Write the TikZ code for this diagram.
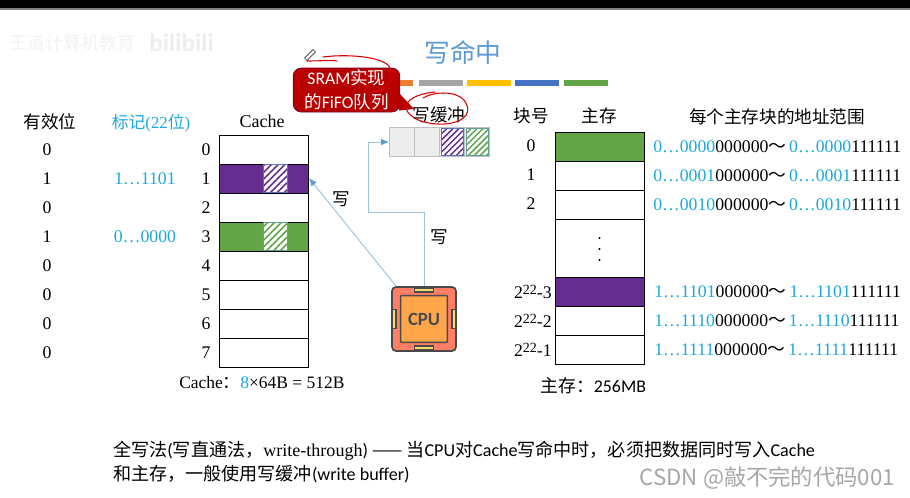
\documentclass[tikz,border=0pt]{standalone}
\usepackage{fontspec}
\setmainfont{Liberation Serif}
\setsansfont{Carlito}
\newfontfamily\cjk{Noto Sans CJK SC}
\usetikzlibrary{arrows.meta,patterns.meta,shapes.misc}
\definecolor{tblue}{HTML}{5B9BD5}
\definecolor{cyanb}{HTML}{1BA9DC}
\definecolor{purp}{HTML}{652D8F}
\definecolor{grn}{HTML}{62A446}
\definecolor{linkb}{HTML}{9CC2DE}
\definecolor{redb}{HTML}{B70000}
\definecolor{cellg}{HTML}{EDEDED}
\definecolor{bord}{HTML}{BFBFBF}
\definecolor{baror}{HTML}{ED7D31}
\definecolor{bargr}{HTML}{A5A5A5}
\definecolor{barye}{HTML}{FFC000}
\definecolor{barbl}{HTML}{4472C4}
\definecolor{cpuo}{HTML}{FF7F66}
\definecolor{cpui}{HTML}{FFA54A}
\definecolor{cpup}{HTML}{F4DC6E}
\definecolor{cpul}{HTML}{4A4A4A}
\tikzset{
  tx/.style={inner sep=0pt,font=\fontsize{13.3}{15}\selectfont},
  cn/.style={inner sep=0pt,font=\cjk\fontsize{13.2}{15}\selectfont},
  blue tx/.style={tx,text=cyanb},
  cell/.style={draw=black,line width=0.8pt,fill=white,minimum width=66.75pt,inner sep=0pt,minimum height=21.75pt},
  hatchp/.style={draw=#1!40!tblue,line width=0.7pt,minimum width=18.5pt,minimum height=21.5pt,inner sep=0pt,
     preaction={fill=white},pattern={Lines[angle=45,distance=3.6pt,line width=1.2pt]},pattern color=#1},
  bufc/.style={draw=bord,line width=0.9pt,fill=cellg,minimum width=18.75pt,minimum height=21.75pt,inner sep=0pt},
  bufh/.style={draw=#1!40!tblue,line width=0.7pt,minimum width=16.5pt,minimum height=20pt,inner sep=0pt,
     preaction={fill=white},pattern={Lines[angle=45,distance=3.2pt,line width=1.1pt]},pattern color=#1},
  bar/.style={minimum height=4.5pt,inner sep=0pt,fill=#1,minimum width=32.5pt},
  link/.style={draw=linkb,line width=0.7pt,-{Latex[length=6pt,width=5pt,color=tblue]}},
  scrib/.style={draw=red!85!black,line width=0.8pt,line cap=round},
  addr/.style={inner sep=0pt,anchor=west,font=\fontsize{13.3}{15}\selectfont},
  body/.style={inner sep=0pt,anchor=west,font=\sffamily\fontsize{13.55}{15}\selectfont},
  vdot/.style={circle,fill=black,minimum size=1.6pt,inner sep=0pt},
  pin/.style={draw=cpul,line width=0.8pt,fill=cpup,inner sep=0pt},
}
\newcommand{\cnt}[1]{{\cjk #1}}
\newcommand{\addrline}[1]{\textcolor{cyanb}{#1}000000\cnt{～}\,\textcolor{cyanb}{#1}111111}
\newcommand{\pw}[1]{2\raisebox{3.5pt}{\fontsize{10.5}{11}\selectfont 22}-#1}
\begin{document}
\begin{tikzpicture}[x=0.75pt,y=-0.75pt]
\useasboundingbox (0,0) rectangle (910,497);
\fill[black] (0,0) rectangle (910,8);
\fill[gray] (0,8) rectangle (910,9.5);
% faint watermark
\node[cn,text=black!5,font=\cjk\fontsize{13.5}{14}\selectfont,anchor=west] (wm1) at (9,43) {王道计算机教育};
\node[text=black!7,font=\sffamily\bfseries\fontsize{19}{20}\selectfont,inner sep=0pt,anchor=west] (wm2) at (149,43) {bilibili};
% title and bars
\node[cn,text=tblue,font=\cjk\fontsize{19.3}{21}\selectfont] (title) at (463,53) {写命中};
\node[bar=baror,minimum width=12pt,anchor=west] (b0) at (397,83) {};
\node[bar=bargr,anchor=west] (b1) at (419,83) {};
\node[bar=barye,anchor=west] (b2) at (467,83) {};
\node[bar=barbl,anchor=west] (b3) at (515,83) {};
\node[bar=grn,anchor=west] (b4) at (564,83) {};
% left columns
\node[cn] (vh) at (50,122) {有效位};
\node[blue tx,font=\fontsize{12.6}{15}\selectfont] (th) at (151,123) {\cnt{标记}(22\cnt{位})};
\node[tx,font=\fontsize{13.5}{15}\selectfont] (ch) at (262,121) {Cache};
\foreach \i/\v/\t in {0/0/,1/1/1…1101,2/0/,3/1/0…0000,4/0/,5/0/,6/0/,7/0/}{
  \pgfmathsetmacro\yy{135+29*\i+14.5}
  \node[cell,anchor=north west] (c\i) at (219,135+29*\i) {};
  \node[tx] (n\i) at (206,\yy) {\i};
  \node[tx] (v\i) at (47,\yy) {\v};
  \node[blue tx] (t\i) at (145,\yy) {\t};
}
\node[cell,fill=purp] (cp) at (c1) {};
\node[cell,fill=grn] (cg) at (c3) {};
\node[hatchp=purp] (hp) at (275.5,178.5) {};
\node[hatchp=grn] (hg) at (275.5,236.5) {};
\node[tx,anchor=west,font=\fontsize{13.1}{15}\selectfont] (cf) at (179,383) {Cache\cnt{：}\textcolor{cyanb}{8}×64B = 512B};
% write buffer
\node[cn] (wbl) at (439,115) {写缓冲};
\node[bufc,anchor=north west] (w0) at (389,127) {};
\node[bufc,anchor=north west] (w1) at (414,127) {};
\node[bufc,anchor=north west] (w2) at (439,127) {};
\node[bufc,anchor=north west] (w3) at (464,127) {};
\node[bufh=purp] at (w2) {};
\node[bufh=grn] at (w3) {};
% CPU
\node[draw=cpul,line width=1.3pt,fill=cpuo,rounded corners=3pt,minimum size=48pt,inner sep=0pt] (cpu) at (424,319) {};
\node[draw=cpul,line width=1.2pt,fill=cpui,minimum size=35pt,inner sep=0pt,rounded corners=0.5pt,font=\sffamily\bfseries\fontsize{14}{15}\selectfont,text=cpul] (cpuin) at (cpu.center) {CPU};
\node[pin,minimum width=14pt,minimum height=3pt] (p1) at (424,290) {};
\node[pin,minimum width=14pt,minimum height=3pt] (p2) at (424,348) {};
\node[pin,minimum width=3pt,minimum height=14pt] (p3) at (394,319) {};
\node[pin,minimum width=3pt,minimum height=14pt] (p4) at (454,319) {};
% connectors
\coordinate (k1) at (424,212);
\coordinate (k2) at (368,212);
\coordinate (k3) at (368,142);
\coordinate (cs) at (396,286);
\coordinate (ct) at (309,178);
\draw[link] (cpu.north) -- (k1) -- (k2) -- (k3) -- (w0.west |- k3);
\draw[link] (cs) -- (ct);
\node[cn] (wa) at (341,199) {写};
\node[cn] (wb) at (439,237) {写};
% memory
\node[cn] (kh) at (531,116) {块号};
\node[cn] (mh) at (599,116) {主存};
\node[cn] (ah) at (777,117) {每个主存块的地址范围};
\node[cell,fill=grn,anchor=north west] (m0) at (555,132) {};
\node[cell,anchor=north west] (m1) at (555,161) {};
\node[cell,anchor=north west] (m2) at (555,190) {};
\node[cell,anchor=north west,minimum height=43.5pt] (m3) at (555,219) {};
\node[cell,fill=purp,anchor=north west] (m4) at (555,277) {};
\node[cell,anchor=north west] (m5) at (555,306) {};
\node[cell,anchor=north west] (m6) at (555,335) {};
\node[vdot] (d1) at (599.5,238) {};
\node[vdot] (d2) at (599.5,249) {};
\node[vdot] (d3) at (599.5,260) {};
\node[tx] (k0) at (531,146) {0};
\node[tx] (k1n) at (531,175) {1};
\node[tx] (k2n) at (531,204) {2};
\node[tx,anchor=east] (k4) at (552,292) {\pw{3}};
\node[tx,anchor=east] (k5) at (552,321) {\pw{2}};
\node[tx,anchor=east] (k6) at (552,350) {\pw{1}};
\node[addr] (a0) at (653,147) {\addrline{0…0000}};
\node[addr] (a1) at (653,176) {\addrline{0…0001}};
\node[addr] (a2) at (653,205) {\addrline{0…0010}};
\node[addr] (a4) at (654,292) {\addrline{1…1101}};
\node[addr] (a5) at (654,321) {\addrline{1…1110}};
\node[addr] (a6) at (654,350) {\addrline{1…1111}};
\node[body,font=\sffamily\fontsize{13.4}{15}\selectfont] (mf) at (540,386) {\cnt{主存：}256MB};
% callout
\node[fill=redb,draw=black!50!blue!40!redb,line width=0.5pt,rounded corners=6pt,minimum width=80pt,minimum height=33pt,inner sep=0pt,text=white,align=center,font=\sffamily\fontsize{13.2}{18}\selectfont] (callout) at (346.5,90) {SRAM\cnt{实现}\\\cnt{的}FiFO\cnt{队列}};
\coordinate (tip) at (414,109);
\fill[redb] (399,93) -- (tip) -- (399,110.5) -- cycle;
% scribbles
\node[inner sep=0pt,rotate=45,draw=black!80,line width=0.5pt,minimum width=9pt,minimum height=2.5pt] (pen) at (310,55) {};
\draw[scrib] (323,57) .. controls (345,54) and (380,56) .. (389,66) .. controls (394,78) and (392,90) .. (372,92);
\draw[scrib] (305,68) .. controls (296,82) and (296,92) .. (306,96);
\draw[scrib] (307,61) .. controls (320,61) and (330,60) .. (337,61);
\draw[scrib] (423,98) .. controls (432,92) and (455,90) .. (464,100) .. controls (472,110) and (468,122) .. (445,124) .. controls (425,125) and (408,118) .. (406,108) .. controls (406,100) and (416,94) .. (435,92);
% bottom text
\node[body] (l1) at (113,451) {\cnt{全写法}(\cnt{写直通法，}{\rmfamily write-through}) \cnt{——} \cnt{当}CPU\cnt{对}Cache\cnt{写命中时，必须把数据同时写入}Cache};
\node[body] (l2) at (113,474) {\cnt{和主存，一般使用写缓冲}(write buffer)};
\node[inner sep=0pt,anchor=east,text=black!35,font=\cjk\fontsize{16.7}{18}\selectfont] (wm3) at (895,478) {CSDN @敲不完的代码001};
\end{tikzpicture}
\end{document}
